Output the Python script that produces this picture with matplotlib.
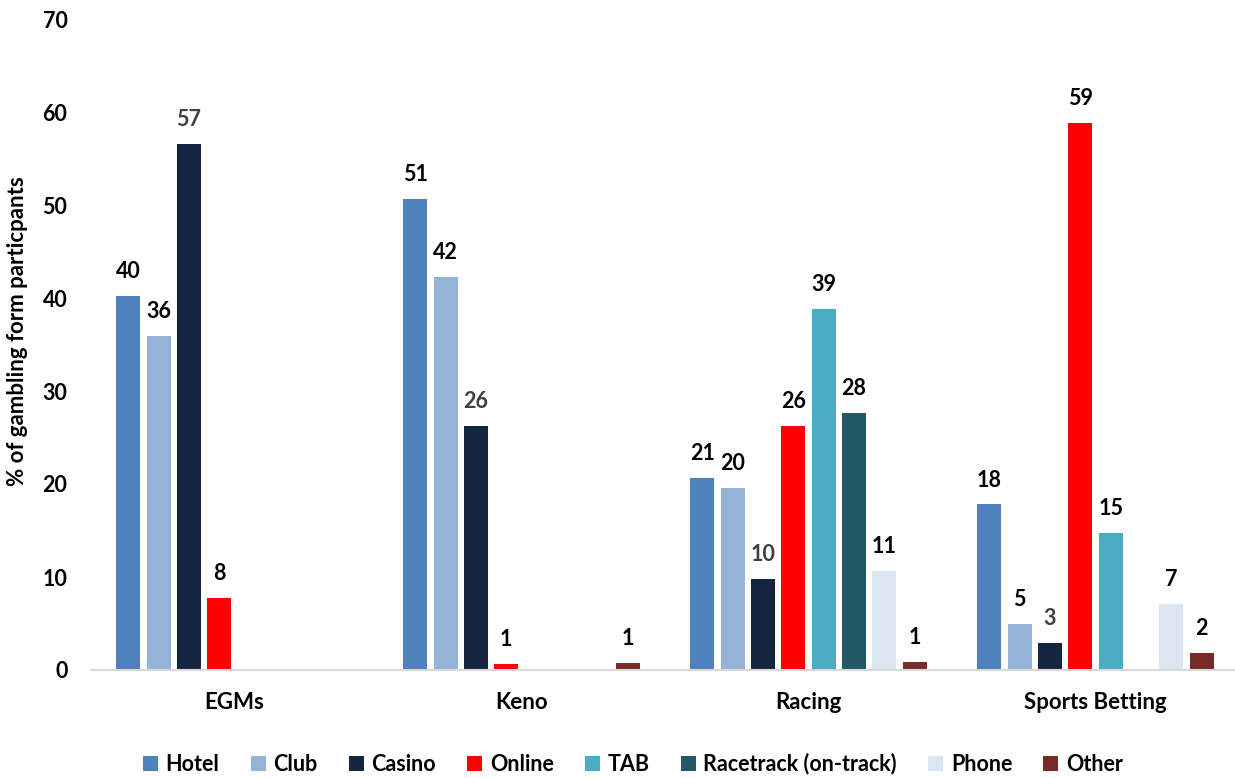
import numpy as np
import matplotlib.pyplot as plt
from matplotlib.patches import Patch

plt.rcParams['font.family'] = ['Lato', 'DejaVu Sans']

# gambling forms on the x axis
categories = ["EGMs", "Keno", "Racing", "Sports Betting"]

# venue / channel series, values in % (None = no bar)
channels = ["Hotel", "Club", "Casino", "Online", "TAB",
            "Racetrack (on-track)", "Phone", "Other"]
hotel = [40.2, 50.6, 20.6, 17.8]
club = [35.9, 42.3, 19.6, 4.9]
casino = [56.6, 26.2, 9.8, 2.9]
online = [7.7, 0.6, 26.2, 58.8]
tab = [None, None, 38.8, 14.7]
racetrack = [None, None, 27.6, None]
phone = [None, None, 10.6, 7.1]
other = [None, 0.8, 0.9, 1.8]

colors = ["#4F81BD", "#95B3D7", "#14263F", "#FF0000", "#4BACC6",
          "#215968", "#DCE6F2", "#772C2A"]
label_colors = ["black", "black", "#404040", "black", "black",
                "black", "black", "black"]

series = [hotel, club, casino, online, tab, racetrack, phone, other]

fig = plt.figure(figsize=(12.35, 7.78), dpi=100)
ax = fig.add_axes([91 / 1235, 108 / 778, 1148 / 1235, 651 / 778])

x = np.arange(len(categories))
slot = 0.1056
width = 0.0836

for i, (vals, col, lcol) in enumerate(zip(series, colors, label_colors)):
    offs = (i - 3.5) * slot
    for j, v in enumerate(vals):
        if v is None:
            continue
        ax.bar(x[j] + offs, v, width=width, color=col, edgecolor="none")
        ax.text(x[j] + offs, v + 1.5, f"{v:.0f}", ha="center", va="bottom",
                fontsize=15.5, fontweight="bold", color=lcol)

ax.set_xlim(-0.5, 3.5)
ax.set_ylim(0, 70)
ax.set_yticks(range(0, 71, 10))
ax.set_xticks(x)
ax.set_xticklabels(categories, fontsize=16, fontweight="bold")
for t in ax.get_yticklabels():
    t.set_fontsize(15.5)
    t.set_fontweight("bold")
ax.tick_params(axis="both", length=0)
ax.tick_params(axis="x", pad=16)
ax.tick_params(axis="y", pad=17)

for s in ["top", "right", "left"]:
    ax.spines[s].set_visible(False)
ax.spines["bottom"].set_color("#D9D9D9")
ax.spines["bottom"].set_linewidth(1.5)

ax.set_ylabel("% of gambling form particpants", fontsize=16,
              fontweight="bold", va="center")
ax.yaxis.set_label_coords(-73 / 1148, 0.52)

handles = [Patch(facecolor=c, edgecolor="none", label=n)
           for n, c in zip(channels, colors)]
fig.legend(handles=handles, loc="center", bbox_to_anchor=(633 / 1235, 1 - 764 / 778),
           ncol=8, frameon=False, handlelength=0.7, handleheight=0.7,
           handletextpad=0.35, columnspacing=1.45,
           prop={"size": 15.5, "weight": "bold"})

fig.savefig("out.png", dpi=100)
